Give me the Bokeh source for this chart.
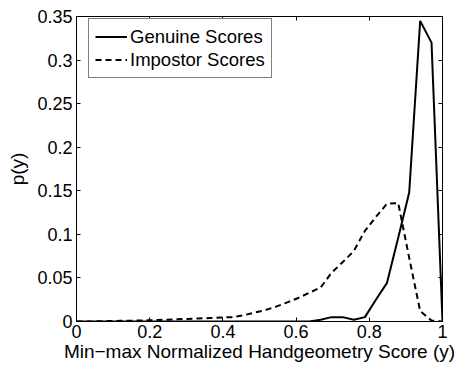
from bokeh.plotting import figure
from bokeh.models import Range1d, LinearAxis, FixedTicker, Legend, LegendItem
from bokeh.embed import file_html
from bokeh.resources import INLINE

# Data (score bins)
score = [0.000, 0.030, 0.061, 0.091, 0.121, 0.152, 0.182, 0.212, 0.242, 0.273,
         0.303, 0.333, 0.364, 0.394, 0.424, 0.455, 0.485, 0.515, 0.545, 0.576,
         0.606, 0.636, 0.667, 0.697, 0.727, 0.758, 0.788, 0.818, 0.848, 0.879,
         0.909, 0.939, 0.970, 1.000]
genuine = [0, 0, 0, 0, 0, 0, 0, 0, 0, 0,
           0, 0, 0, 0, 0, 0, 0, 0, 0, 0,
           0, 0, 0.002, 0.005, 0.005, 0.002, 0.005, 0.025, 0.044, 0.096,
           0.148, 0.345, 0.320, 0.0]
impostor = [0.0, 0.0, 0.0003, 0.0005, 0.0008, 0.001, 0.0012, 0.0015, 0.002, 0.0025,
            0.003, 0.0035, 0.004, 0.0045, 0.005, 0.007, 0.010, 0.013, 0.017, 0.022,
            0.027, 0.033, 0.039, 0.056, 0.068, 0.081, 0.104, 0.120, 0.135, 0.136,
            0.073, 0.012, 0.001, 0.0]
x_ticks = [0, 0.2, 0.4, 0.6, 0.8, 1]
y_ticks = [0, 0.05, 0.1, 0.15, 0.2, 0.25, 0.3, 0.35]
x_label = "Min\u2212max Normalized Handgeometry Score (y)"
y_label = "p(y)"
series_names = ["Genuine Scores", "Impostor Scores"]

FONT = "Liberation Sans"

p = figure(width=459, height=372, output_backend="svg", toolbar_location=None,
           x_range=Range1d(0, 1), y_range=Range1d(0, 0.35),
           min_border_left=76, min_border_right=17, min_border_top=16, min_border_bottom=51)
p.background_fill_color = "white"
p.border_fill_color = "white"
p.grid.visible = False
p.outline_line_color = "black"
p.outline_line_width = 1

def style_axis(ax, ticks):
    ax.ticker = FixedTicker(ticks=ticks)
    ax.major_tick_in = 4
    ax.major_tick_out = 0
    ax.minor_tick_in = 0
    ax.minor_tick_out = 0
    ax.axis_line_color = "black"
    ax.major_tick_line_color = "black"
    ax.major_label_text_font = FONT
    ax.major_label_text_color = "black"
    ax.major_label_text_font_size = "18px"
    ax.axis_label_text_font = FONT
    ax.axis_label_text_font_style = "normal"
    ax.axis_label_text_color = "black"
    ax.axis_label_text_font_size = "19px"

style_axis(p.xaxis[0], x_ticks)
style_axis(p.yaxis[0], y_ticks)
p.xaxis[0].axis_label = x_label
p.yaxis[0].axis_label = y_label
p.xaxis[0].major_label_standoff = 3
p.xaxis[0].axis_label_standoff = 0
p.yaxis[0].major_label_standoff = 4
p.yaxis[0].axis_label_standoff = 6
p.xaxis[0].major_label_overrides = {0: "0", 1: "1"}
p.yaxis[0].major_label_overrides = {0: "0"}

# mirrored tick marks on top and right (no labels)
top_ax = LinearAxis(major_label_text_alpha=0)
right_ax = LinearAxis(major_label_text_alpha=0)
style_axis(top_ax, x_ticks)
style_axis(right_ax, y_ticks)
top_ax.major_label_overrides = {t: "" for t in x_ticks}
right_ax.major_label_overrides = {t: "" for t in y_ticks}
top_ax.major_label_standoff = 0
right_ax.major_label_standoff = 0
p.add_layout(top_ax, "above")
p.add_layout(right_ax, "right")

r1 = p.line(score, genuine, line_color="black", line_width=2)
r2 = p.line(score, impostor, line_color="black", line_width=2, line_dash="6 4")

legend = Legend(items=[LegendItem(label=series_names[0], renderers=[r1]),
                       LegendItem(label=series_names[1], renderers=[r2])],
                location=(12, 243))
legend.label_text_font = FONT
legend.label_text_font_size = "18.5px"
legend.label_text_color = "black"
legend.glyph_width = 32
legend.glyph_height = 23
legend.label_height = 23
legend.label_standoff = 3
legend.padding = 6
legend.spacing = 0
legend.margin = 0
legend.border_line_color = "black"
legend.border_line_width = 1
legend.background_fill_color = "white"
legend.background_fill_alpha = 1
p.add_layout(legend, "center")

open("out.html", "w").write(file_html(p, INLINE))
